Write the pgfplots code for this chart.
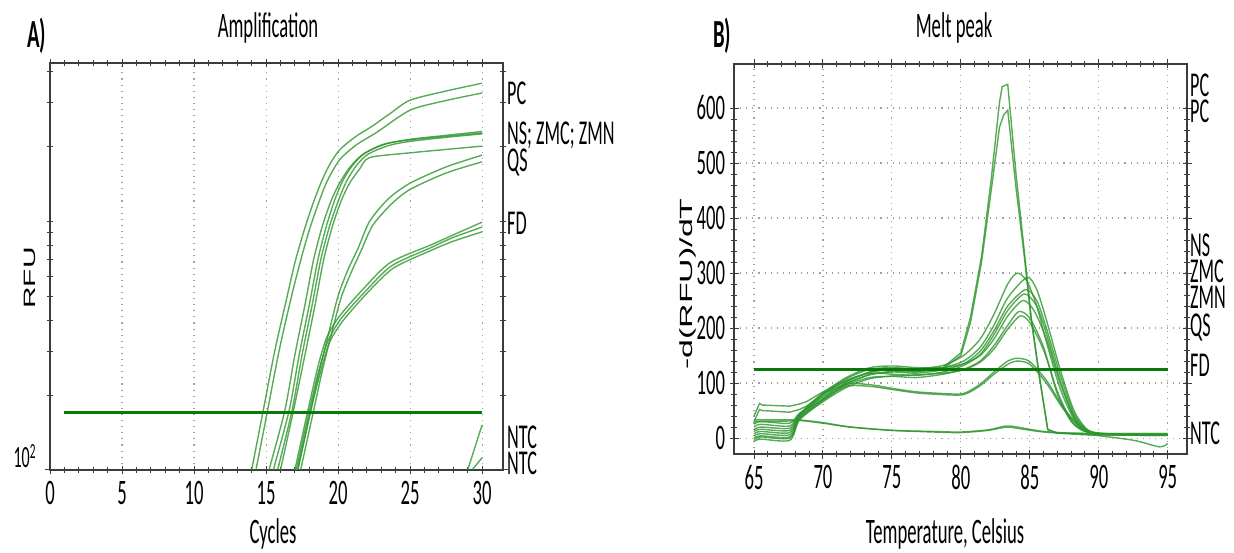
\documentclass[border=0pt]{standalone}
\usepackage{fontspec}
\setmainfont{Carlito}[FakeStretch=0.52]
\newfontfamily\labelfont{Liberation Sans}
\usepackage{graphicx}
\usepackage{pgfplots}
\pgfplotsset{compat=1.18}

\definecolor{curve}{RGB}{45,150,45}
\definecolor{thresh}{RGB}{10,120,10}
\definecolor{axisgray}{RGB}{60,60,60}

\pgfplotsset{
  qpcr/.style={
    scale only axis,
    axis line style={axisgray, line width=1.4bp},
    tick style={axisgray, line width=1bp},
    tick align=center,
    major tick length=9bp,
    minor tick length=6bp,
    grid style={gray!75, line width=1.1bp, dash pattern=on 1.1bp off 5bp},
    /pgf/number format/assume math mode=true,
    ticklabel style={font=\fontsize{36}{36}\selectfont, text=black},
    xticklabel style={yshift=-3bp},
  },
  trace/.style={curve, line width=1.4bp, opacity=0.8, smooth, tension=0.45},
  sharp/.style={curve, line width=1.4bp, opacity=0.8},
}

\newcommand{\lbl}{\fontsize{35}{35}\selectfont}

\begin{document}
\begin{tikzpicture}
\path[use as bounding box] (0,0) rectangle (1234bp,-553bp);

% ---------------- A) Amplification ----------------
\begin{axis}[qpcr,
  at={(50bp,-470bp)}, anchor=south west,
  width=453bp, height=407bp,
  xmin=0, xmax=31.45,
  ymode=log, ymin=100, ymax=4315,
  xtick={0,5,10,15,20,25,30}, minor x tick num=4,
  xmajorgrids,
  ytick={100}, yticklabels={10\textsuperscript{2}},
  minor ytick={200,300,400,500,600,700,800,900,1000,2000,3000,4000},
  yticklabel style={font=\fontsize{31}{31}\selectfont, xshift=-6bp, yshift=14bp},
]
% PC
\addplot[trace] coordinates {(14.0,100) (14.8,173) (15.6,300) (16.4,480) (17.0,680) (17.6,900) (18.2,1150) (18.8,1420) (19.4,1680) (20.1,1930) (21.2,2180) (22.3,2390) (23.6,2700) (25,3060) (27.5,3330) (30,3580)};
\addplot[trace] coordinates {(14.3,100) (15.1,173) (15.9,300) (16.7,480) (17.3,660) (17.9,880) (18.5,1120) (19.2,1430) (20.1,1760) (21.3,2030) (22.7,2275) (25,2790) (27.5,3050) (30,3270)};
% NS; ZMC; ZMN
\addplot[trace] coordinates {(15.2,100) (16.3,173) (17.0,290) (17.7,460) (18.3,700) (18.9,950) (19.5,1200) (20.1,1420) (20.8,1640) (21.7,1850) (23.1,2030) (25,2130) (27.5,2210) (30,2290)};
\addplot[trace] coordinates {(15.5,100) (16.6,173) (17.3,290) (18.0,460) (18.6,700) (19.2,960) (19.8,1230) (20.4,1480) (21.1,1700) (21.9,1880) (23.3,2040) (25,2120) (27.5,2190) (30,2260)};
\addplot[trace] coordinates {(15.8,100) (16.8,173) (17.5,290) (18.2,460) (18.8,700) (19.4,950) (20.0,1200) (20.6,1450) (21.3,1680) (22.1,1860) (23.5,2010) (25,2090) (27.5,2170) (30,2240)};
\addplot[trace] coordinates {(16.0,100) (16.9,173) (17.7,290) (18.4,460) (19.0,700) (19.6,950) (20.2,1200) (20.8,1420) (21.5,1620) (22.2,1800) (25,1880) (27.5,1940) (30,2000)};
% QS
\addplot[trace] coordinates {(17.2,100) (18.1,173) (18.7,250) (19.3,345) (20.0,500) (20.7,640) (21.4,780) (22.2,1000) (23.5,1230) (25,1420) (27.5,1650) (30,1840)};
\addplot[trace] coordinates {(17.4,100) (18.3,173) (18.9,250) (19.5,345) (20.2,490) (20.9,620) (21.6,760) (22.4,960) (23.7,1170) (25,1340) (27.5,1560) (30,1730)};
% FD
\addplot[trace] coordinates {(17.0,100) (17.9,173) (18.6,260) (19.2,339) (20.1,415) (21.7,530) (23.6,680) (26.4,800) (28,880) (30,990)};
\addplot[trace] coordinates {(17.1,100) (18.0,173) (18.7,255) (19.3,330) (20.2,405) (21.8,515) (23.7,660) (26.4,780) (28,860) (30,946)};
\addplot[trace] coordinates {(17.2,100) (18.1,173) (18.8,250) (19.4,325) (20.3,395) (21.9,505) (23.8,645) (26.4,760) (28,830) (30,905)};
% NTC
\addplot[sharp] coordinates {(29.0,100) (30,152)};
\addplot[sharp] coordinates {(29.3,100) (30,112)};
% threshold
\addplot[thresh, line width=3.5bp] coordinates {(1,170) (30,170)};
\end{axis}

% ---------------- B) Melt peak ----------------
\begin{axis}[qpcr,
  at={(734bp,-454bp)}, anchor=south west,
  width=453bp, height=390bp,
  xmin=63.55, xmax=96.4, ymin=-29, ymax=680,
  xtick={65,70,75,80,85,90,95}, ytick={0,100,200,300,400,500,600},
  minor x tick num=4, minor y tick num=4,
  grid=major,
  yticklabel style={xshift=-1bp},
]
% PC
\addplot[sharp] coordinates {(65,40) (65.4,63) (65.6,60) (67.6,58) (68.3,62) (68.8,66) (70,84) (71.7,104) (73.4,120) (75.1,126) (76.8,122) (78.7,128) (80,155) (80.7,220) (81.5,330) (82.2,470) (82.8,610) (83.0,639) (83.4,643) (84.0,480) (84.6,340) (85.1,220) (85.7,112) (86.3,15) (87,9) (90,8) (95,8)};
\addplot[sharp] coordinates {(65,30) (65.4,52) (65.6,50) (67.6,47) (68.3,52) (68.8,58) (70,80) (71.7,100) (73.4,116) (75.1,122) (76.8,120) (78.7,126) (80,150) (80.7,210) (81.5,320) (82.2,450) (82.8,565) (83.1,587) (83.4,596) (84.0,455) (84.6,330) (85.1,215) (85.7,110) (86.3,16) (87,9) (90,8) (95,8)};
% NS, ZMC, ZMN, QS
\addplot[trace] coordinates {(65,12) (65.5,16) (67.6,14) (68.3,42) (70,80) (71.7,108) (73.4,125) (75.1,128) (76.8,126) (78.7,132) (80.2,150) (81.4,180) (82.4,225) (83.4,280) (84.1,300) (84.8,285) (85.5,240) (86.2,175) (87.2,90) (88.2,35) (89.2,12) (90.5,8) (93,7) (95,7)};
\addplot[trace] coordinates {(65,4) (65.5,8) (67.6,6) (68.3,38) (70,72) (71.7,102) (73.4,120) (75.1,125) (76.8,122) (78.7,128) (80.2,140) (81.4,165) (82.4,205) (83.4,255) (84.8,292) (85.5,270) (86.2,215) (87.2,125) (88.2,50) (89.2,15) (90.5,8) (93,6) (95,6)};
\addplot[trace] coordinates {(65,-3) (65.5,2) (67.6,0) (68.3,35) (70,68) (71.7,98) (73.4,115) (75.1,120) (76.8,118) (78.7,124) (80.2,135) (81.4,158) (82.4,195) (83.4,240) (84.7,270) (85.5,250) (86.2,200) (87.2,115) (88.2,45) (89.2,14) (90.5,7) (93,5) (95,5)};
\addplot[trace] coordinates {(65,8) (65.5,12) (67.6,10) (68.3,40) (70,78) (71.7,105) (73.4,118) (75.1,116) (76.8,114) (78.7,120) (80.2,132) (81.4,152) (82.4,188) (83.4,232) (84.6,262) (85.5,240) (86.2,190) (87.2,105) (88.2,40) (89.2,12) (90.5,7) (93,6) (95,6)};
\addplot[trace] coordinates {(65,20) (65.5,25) (67.6,22) (68.3,44) (70,82) (71.7,110) (73.4,128) (75.1,131) (76.8,128) (78.7,128) (80.2,135) (81.4,150) (82.4,180) (83.4,222) (84.5,250) (85.3,232) (86.2,180) (87.2,100) (88.2,38) (89.2,12) (90.5,7) (93,6) (95,6)};
\addplot[trace] coordinates {(65,0) (65.5,4) (67.6,2) (68.3,36) (70,70) (71.7,96) (73.4,110) (75.1,112) (76.8,110) (78.7,116) (80.2,125) (81.4,140) (82.4,168) (83.4,205) (84.2,230) (85,218) (86,165) (87,80) (88,30) (89,12) (90.5,7) (93,6) (95,6)};
\addplot[trace] coordinates {(65,-6) (65.5,-2) (67.6,-4) (68.3,33) (70,66) (71.7,92) (73.4,108) (75.1,113) (76.8,115) (78.7,118) (80.2,124) (81.4,138) (82.4,162) (83.4,198) (84.3,222) (85,210) (86,160) (87,85) (88,32) (89,12) (90.5,7) (93,5) (95,5)};
% FD
\addplot[trace] coordinates {(65,15) (65.5,20) (67.6,18) (68.3,42) (70,75) (71.7,98) (73.4,97) (75.1,90) (76.8,84) (78.7,81) (80.2,81) (81.4,98) (82.4,120) (83.4,140) (84.1,145) (85,139) (86.2,105) (87.4,57) (88.6,21) (89.6,8) (91,6) (95,6)};
\addplot[trace] coordinates {(65,25) (65.5,30) (67.6,27) (68.3,45) (70,70) (71.7,94) (73.4,94) (75.1,88) (76.8,82) (78.7,79) (80.2,79) (81.4,95) (82.4,116) (83.4,134) (84.1,140) (85,134) (86.2,100) (87.4,54) (88.6,20) (89.6,8) (91,6) (95,6)};
% NTC
\addplot[trace] coordinates {(65,33) (67.6,33) (68.3,33) (70,28) (72,20) (75,14) (78,11) (80,10) (82,14) (83.3,20) (84.3,17) (86,11) (89,6) (92,6) (95,6)};
\addplot[trace] coordinates {(65,30) (67.6,31) (68.3,32) (70,27) (72,20) (75,14) (78,12) (80,11) (82,15) (83.3,22) (84.3,19) (86,12) (89,7) (92.5,-4) (94.4,-16) (95,-10)};
% threshold
\addplot[thresh, line width=3.5bp] coordinates {(65,125) (95,125)};
\end{axis}

% ---------------- titles and labels ----------------
\node[anchor=base west, inner sep=0pt] at (27bp,-47bp) {\fontsize{40}{40}\selectfont\bfseries A)};
\node[anchor=base, inner sep=0pt] at (268bp,-37bp) {\fontsize{36}{36}\selectfont Amplification};
\node[anchor=base, inner sep=0pt] at (273bp,-543bp) {\fontsize{36}{36}\selectfont Cycles};
\node[rotate=90, inner sep=0pt] at (30bp,-278bp) {\labelfont\fontsize{30}{30}\selectfont\scalebox{1}[0.55]{RFU}};

\node[anchor=base west, inner sep=0pt] at (713bp,-47bp) {\fontsize{40}{40}\selectfont\bfseries B)};
\node[anchor=base, inner sep=0pt] at (954bp,-37bp) {\fontsize{36}{36}\selectfont Melt peak};
\node[anchor=base, inner sep=0pt] at (945bp,-543bp) {\fontsize{36}{36}\selectfont Temperature, Celsius};
\node[rotate=90, inner sep=0pt] at (688bp,-284bp) {\labelfont\fontsize{34}{34}\selectfont\scalebox{1}[0.52]{-d(RFU)/dT}};

% trace names, left panel
\begin{scope}[every node/.style={anchor=base west, inner sep=0pt, font=\lbl}]
\node at (507bp,-104bp) {PC};
\node at (507bp,-144bp) {NS; ZMC; ZMN};
\node at (507bp,-171bp) {QS};
\node at (507bp,-234bp) {FD};
\node at (507bp,-448bp) {NTC};
\node at (507bp,-474bp) {NTC};
% trace names, right panel
\node at (1190bp,-96bp) {PC};
\node at (1190bp,-122bp) {PC};
\node at (1190bp,-256bp) {NS};
\node at (1190bp,-282bp) {ZMC};
\node at (1190bp,-308bp) {ZMN};
\node at (1190bp,-336bp) {QS};
\node at (1190bp,-376bp) {FD};
\node at (1190bp,-444bp) {NTC};
\end{scope}
\end{tikzpicture}
\end{document}
